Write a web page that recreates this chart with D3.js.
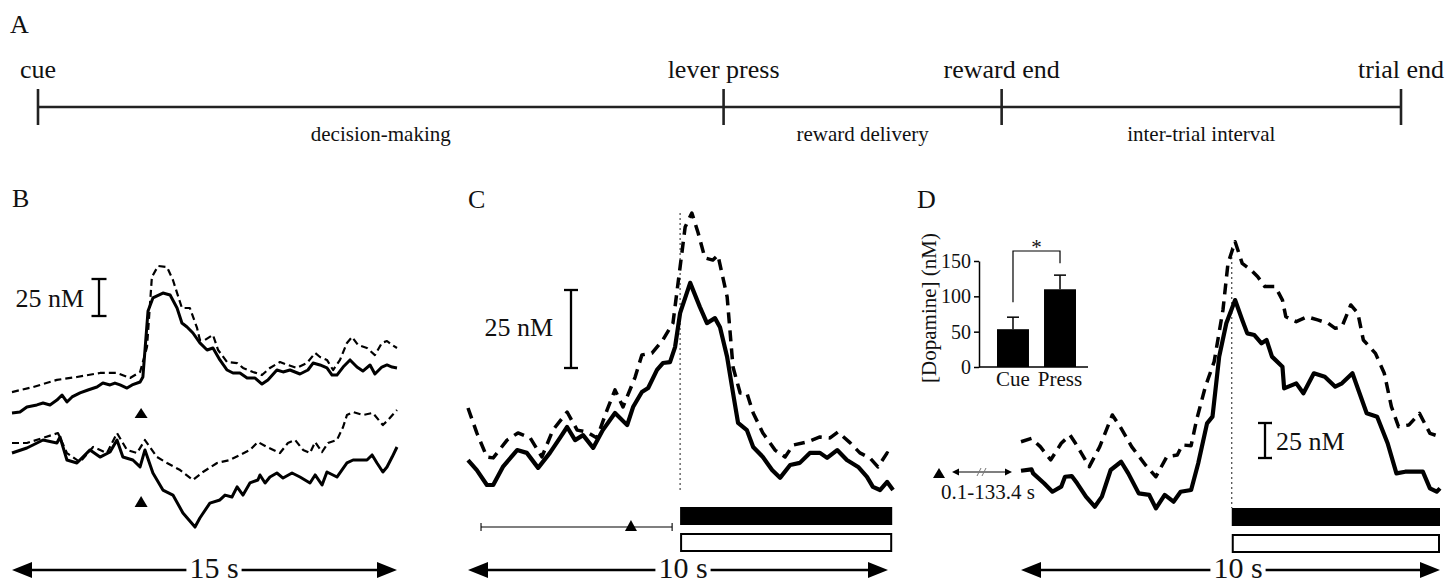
<!DOCTYPE html>
<html>
<head>
<meta charset="utf-8">
<script src="https://cdn.jsdelivr.net/npm/d3@7"></script>
<style>
  html, body { margin: 0; padding: 0; background: #fff; }
  svg { display: block; }
</style>
</head>
<body>
<svg id="fig" width="1450" height="587"></svg>
<script>
// ---------- Panel A: trial timeline ----------
const timelineEvents = ["cue", "lever press", "reward end", "trial end"];
const timelineEventPos = [0, 0.503, 0.707, 1];          // fraction of the trial
const timelinePhases = ["decision-making", "reward delivery", "inter-trial interval"];

// ---------- Panel B: cue-evoked traces, [time s, dopamine nM] ----------
const bUpperSolid = [[0,79.1],[0.31,79.7],[0.58,83.1],[0.97,84.5],[1.21,85.8],[1.48,84.5],[1.75,87.8],[1.95,91.2],[2.14,86.5],[2.34,89.9],[2.65,92.6],[2.96,94.6],[3.31,96.6],[3.54,99.3],[3.82,98.0],[4.01,99.3],[4.21,98.0],[4.48,95.9],[4.68,98.0],[4.99,100.0],[5.10,103.4],[5.30,148.0],[5.49,156.8],[5.88,160.1],[6.16,158.8],[6.43,150.0],[6.62,139.9],[6.82,137.2],[7.05,133.1],[7.32,126.4],[7.60,121.6],[7.83,123.0],[8.10,114.9],[8.38,108.1],[8.61,106.1],[8.88,106.1],[9.16,102.7],[9.47,102.7],[9.74,98.6],[9.97,101.4],[10.32,108.1],[10.56,106.8],[10.83,108.1],[11.22,105.4],[11.53,108.1],[11.73,112.8],[12.00,111.5],[12.27,109.5],[12.47,104.7],[12.66,104.7],[12.90,110.1],[13.17,114.9],[13.44,110.1],[13.67,107.4],[13.95,111.5],[14.14,105.4],[14.41,110.1],[14.61,111.5],[14.81,110.1],[15.0,109.5]];
const bUpperDashed = [[0,93.2],[0.82,96.6],[1.75,101.4],[2.53,103.4],[3.43,106.1],[4.09,106.1],[4.60,102.7],[4.99,106.8],[5.26,123.6],[5.45,170.9],[5.69,178.4],[6.04,177.7],[6.27,168.9],[6.62,150.0],[6.93,150.0],[7.21,136.5],[7.32,128.4],[7.52,128.4],[7.83,131.8],[8.03,121.6],[8.38,113.5],[8.77,112.8],[9.00,109.5],[9.39,106.8],[9.74,104.7],[10.05,109.5],[10.44,113.5],[10.75,111.5],[11.10,109.5],[11.49,112.8],[11.81,119.6],[12.00,116.9],[12.27,114.9],[12.51,108.1],[12.78,114.9],[13.05,126.4],[13.25,130.4],[13.48,125.0],[13.83,123.0],[14.14,118.2],[14.41,126.4],[14.61,127.7],[14.81,125.0],[15.0,123.0]];
const bLowerSolid = [[0,52.0],[0.58,55.4],[1.21,60.8],[1.75,58.8],[1.87,62.8],[2.14,47.3],[2.53,45.3],[3.04,54.1],[3.43,49.3],[3.82,52.7],[4.09,60.8],[4.32,49.3],[4.71,47.3],[4.99,42.6],[5.18,54.1],[5.49,38.5],[5.88,27.0],[6.27,23.6],[6.66,11.5],[7.13,2.0],[7.32,8.1],[7.71,18.2],[8.10,20.3],[8.30,23.6],[8.57,22.3],[8.77,29.1],[9.00,23.6],[9.27,31.8],[9.58,33.8],[9.66,37.2],[9.86,31.8],[10.05,35.8],[10.32,38.5],[10.56,35.1],[10.91,38.5],[11.22,35.8],[11.61,31.8],[11.81,37.2],[12.08,30.4],[12.27,39.2],[12.66,35.8],[13.05,45.3],[13.29,47.3],[13.56,47.3],[13.83,47.3],[14.03,50.7],[14.22,45.3],[14.45,39.2],[14.61,42.6],[14.81,49.3],[15.0,56.1]];
const bLowerDashed = [[0,58.8],[0.58,58.8],[1.21,62.2],[1.79,65.5],[2.14,52.0],[2.65,45.9],[3.16,56.1],[3.70,52.0],[4.09,65.5],[4.48,54.1],[4.87,52.0],[5.18,60.8],[5.65,49.3],[6.04,45.3],[6.55,40.5],[7.05,33.8],[7.44,39.2],[7.99,45.3],[8.49,47.3],[8.88,50.7],[9.27,54.1],[9.58,59.5],[9.93,56.1],[10.44,52.0],[10.75,58.8],[11.03,60.8],[11.34,54.1],[11.61,52.0],[11.81,59.5],[12.08,52.7],[12.31,58.8],[12.66,60.8],[12.90,69.6],[13.05,77.7],[13.29,79.7],[13.68,77.7],[14.06,79.1],[14.45,70.9],[14.65,74.3],[15.0,81.1]];
const bCueTime = 5.03;

// ---------- Panel C: lever-press aligned traces ----------
const cSolid = [[0,12.8],[0.21,9.6],[0.45,4.8],[0.60,4.8],[0.83,10.6],[1.17,16.0],[1.40,15.1],[1.67,10.3],[1.95,15.1],[2.19,19.9],[2.36,23.4],[2.55,19.2],[2.74,20.8],[2.98,16.7],[3.21,22.4],[3.50,27.9],[3.79,24.0],[3.93,29.8],[4.14,34.6],[4.29,35.9],[4.50,41.7],[4.64,43.9],[4.81,44.2],[4.93,49.0],[5.05,59.9],[5.29,69.6],[5.52,61.9],[5.69,56.7],[5.88,58.3],[6.0,55.4],[6.17,45.8],[6.31,34.3],[6.43,24.7],[6.64,22.4],[6.79,17.0],[7.02,13.8],[7.24,9.6],[7.43,7.1],[7.67,11.2],[7.90,11.9],[8.14,15.1],[8.38,15.1],[8.55,13.5],[8.79,16.0],[9.02,12.8],[9.29,10.6],[9.50,7.4],[9.64,4.2],[9.81,3.2],[9.98,5.8],[10.12,3.2]];
const cDashed = [[0,29.5],[0.21,21.5],[0.45,13.8],[0.60,13.5],[0.93,19.2],[1.19,21.5],[1.48,19.9],[1.76,13.8],[2.02,22.4],[2.36,28.2],[2.60,22.4],[2.83,21.8],[3.07,19.9],[3.31,28.8],[3.50,35.3],[3.69,29.8],[3.98,39.4],[4.14,46.5],[4.38,47.1],[4.64,51.3],[4.88,56.7],[5.05,74.7],[5.17,87.5],[5.33,92.0],[5.48,85.6],[5.64,77.6],[5.83,76.9],[5.95,78.5],[6.17,65.1],[6.31,42.6],[6.48,34.3],[6.64,34.3],[6.79,27.9],[7.02,21.5],[7.31,16.0],[7.55,13.8],[7.74,17.6],[8.07,18.6],[8.38,20.2],[8.62,19.9],[8.81,21.8],[9.10,18.3],[9.33,15.1],[9.57,13.5],[9.76,10.6],[9.98,15.1],[10.12,13.5]];
const cPressTime = 5.05;
const cRewardEndTime = 10.1;
const cCueWindow = [0.31, 4.86];
const cCueTime = 3.88;

// ---------- Panel D: press aligned traces after long delays ----------
const dSolid = [[0,35.2],[0.25,36.2],[0.29,33.3],[0.55,26.2],[0.75,20.2],[0.96,23.8],[1.05,30.9],[1.21,31.4],[1.34,26.2],[1.55,16.7],[1.76,9.5],[1.93,16.7],[2.14,35.7],[2.39,41.6],[2.56,33.3],[2.81,19.0],[3.06,17.9],[3.22,8.3],[3.43,17.9],[3.64,13.1],[3.81,20.2],[4.06,21.4],[4.23,40.5],[4.44,69.0],[4.57,73.8],[4.73,116.7],[4.90,140.5],[5.11,157.1],[5.28,142.9],[5.40,133.3],[5.57,132.1],[5.74,126.2],[5.86,128.6],[5.99,116.7],[6.24,109.5],[6.28,94.0],[6.57,97.6],[6.74,90.5],[6.99,104.8],[7.25,102.4],[7.50,95.2],[7.66,97.6],[7.91,104.8],[8.08,90.5],[8.25,76.2],[8.50,73.8],[8.75,54.8],[8.96,33.3],[9.17,34.5],[9.59,34.5],[9.76,22.6],[9.92,20.2],[10.0,22.6]];
const dDashed = [[0,55.9],[0.25,58.3],[0.46,52.4],[0.71,42.9],[0.96,54.8],[1.17,60.7],[1.30,54.8],[1.63,38.1],[1.88,52.4],[2.18,75.0],[2.39,65.5],[2.64,52.4],[2.97,39.3],[3.22,30.9],[3.48,45.2],[3.73,46.4],[3.85,53.6],[4.06,53.1],[4.19,71.4],[4.40,95.2],[4.61,113.1],[4.82,150.0],[4.94,183.3],[5.11,198.8],[5.28,183.3],[5.49,178.6],[5.65,173.8],[5.82,166.7],[6.07,166.7],[6.24,157.1],[6.32,145.2],[6.57,141.7],[6.83,145.2],[7.08,142.9],[7.33,140.5],[7.50,136.9],[7.66,138.1],[7.87,153.6],[8.04,147.6],[8.17,128.6],[8.46,119.0],[8.67,104.8],[8.84,81.0],[9.01,66.7],[9.26,67.9],[9.51,76.2],[9.76,61.9],[10.0,59.5]];
const dPressTime = 5.03;
const dDelayLabel = "0.1-133.4 s";

// ---------- Panel D inset: mean peak dopamine ----------
const insetCategories = ["Cue", "Press"];
const insetMeans = [53.5, 110];
const insetSem = [17, 20];
const insetTicks = [0, 50, 100, 150];

const scaleBarNM = 25;

// ================= drawing =================
const FONT = "'Liberation Serif','Times New Roman',Times,serif";
const svg = d3.select("#fig");
svg.append("rect").attr("width", 1450).attr("height", 587).attr("fill", "#fff");

function label(x, y, txt, size, anchor) {
  return svg.append("text").attr("x", x).attr("y", y).text(txt)
    .attr("font-family", FONT).attr("font-size", size)
    .attr("text-anchor", anchor || "start").attr("fill", "#111");
}

// ---- Panel A ----
label(10, 33, "A", 26);
const xA = d3.scaleLinear().domain([0, 1]).range([38, 1401]);
const gA = svg.append("g");
gA.append("line").attr("x1", xA(0)).attr("x2", xA(1)).attr("y1", 107).attr("y2", 107)
  .attr("stroke", "#222").attr("stroke-width", 2.6);
timelineEventPos.forEach((p, i) => {
  gA.append("line").attr("x1", xA(p)).attr("x2", xA(p)).attr("y1", 89).attr("y2", 125)
    .attr("stroke", "#222").attr("stroke-width", 2.6);
  label(xA(p), 78, timelineEvents[i], 26, "middle");
});
timelinePhases.forEach((ph, i) => {
  const mid = (xA(timelineEventPos[i]) + xA(timelineEventPos[i + 1])) / 2;
  label(mid, 141, ph, 21, "middle");
});

// ---- helpers ----
function trace(xs, ys, data, width, dash) {
  const line = d3.line().x(d => xs(d[0])).y(d => ys(d[1]));
  svg.append("path").datum(data).attr("d", line)
    .attr("fill", "none").attr("stroke", "#000").attr("stroke-width", width)
    .attr("stroke-linejoin", "round").attr("stroke-linecap", "butt")
    .attr("stroke-dasharray", dash || null);
}
function triangle(cx, base, w, h) {
  svg.append("path").attr("d", `M${cx - w / 2},${base}L${cx + w / 2},${base}L${cx},${base - h}Z`)
    .attr("fill", "#000");
}
function scaleBar(x, yBottom, ys, capW, sw) {
  const len = ys(0) - ys(scaleBarNM);
  const g = svg.append("g").attr("stroke", "#000").attr("stroke-width", sw);
  g.append("line").attr("x1", x).attr("x2", x).attr("y1", yBottom).attr("y2", yBottom - len);
  g.append("line").attr("x1", x - capW / 2).attr("x2", x + capW / 2).attr("y1", yBottom).attr("y2", yBottom);
  g.append("line").attr("x1", x - capW / 2).attr("x2", x + capW / 2).attr("y1", yBottom - len).attr("y2", yBottom - len);
  return len;
}
function timeArrow(x0, x1, y, txt, cx) {
  const t = label(cx, y + 8, txt, 30, "middle");
  const w = t.node().getComputedTextLength();
  const ah = 20, hw = 8;
  const g = svg.append("g");
  g.append("line").attr("x1", x0 + ah - 2).attr("x2", cx - w / 2 - 3).attr("y1", y).attr("y2", y)
    .attr("stroke", "#000").attr("stroke-width", 2.4);
  g.append("line").attr("x1", cx + w / 2 + 3).attr("x2", x1 - ah + 2).attr("y1", y).attr("y2", y)
    .attr("stroke", "#000").attr("stroke-width", 2.4);
  g.append("path").attr("d", `M${x0},${y}L${x0 + ah},${y - hw}L${x0 + ah},${y + hw}Z`).attr("fill", "#000");
  g.append("path").attr("d", `M${x1},${y}L${x1 - ah},${y - hw}L${x1 - ah},${y + hw}Z`).attr("fill", "#000");
}
function dottedLine(x, y0, y1) {
  svg.append("line").attr("x1", x).attr("x2", x).attr("y1", y0).attr("y2", y1)
    .attr("stroke", "#333").attr("stroke-width", 1.1).attr("stroke-dasharray", "2,3");
}
function rewardBars(x0, x1, yBlack, yWhite) {
  svg.append("rect").attr("x", x0).attr("y", yBlack).attr("width", x1 - x0).attr("height", 18).attr("fill", "#000");
  svg.append("rect").attr("x", x0 + 1).attr("y", yWhite + 1).attr("width", x1 - x0 - 2).attr("height", 17)
    .attr("fill", "#fff").attr("stroke", "#000").attr("stroke-width", 2);
}

// ---- Panel B ----
label(12, 207, "B", 26);
const xB = d3.scaleLinear().domain([0, 15]).range([12, 397]);
const yB = d3.scaleLinear().domain([0, 100]).range([530, 382]);
trace(xB, yB, bUpperDashed, 2.2, "7,4");
trace(xB, yB, bUpperSolid, 3);
trace(xB, yB, bLowerDashed, 2.2, "7,4");
trace(xB, yB, bLowerSolid, 3);
triangle(xB(bCueTime), 418, 13, 10);
triangle(xB(bCueTime), 507, 13, 11);
scaleBar(99, 316, yB, 15, 2.3);
label(84, 307, "25 nM", 26, "end");
timeArrow(xB(0), xB(15), 570, "15 s", 214);

// ---- Panel C ----
label(468, 208, "C", 26);
const xC = d3.scaleLinear().domain([0, 10]).range([468, 888]);
const yC = d3.scaleLinear().domain([0, 100]).range([500, 188]);
dottedLine(xC(cPressTime), 213, 492);
trace(xC, yC, cDashed, 3.5, "11,7");
trace(xC, yC, cSolid, 4.2);
scaleBar(571, 368, yC, 14, 2.3);
label(553, 336, "25 nM", 26, "end");
rewardBars(xC(cPressTime), xC(cRewardEndTime), 507, 533);
// cue window with its marker
svg.append("line").attr("x1", xC(cCueWindow[0])).attr("x2", xC(cCueWindow[1])).attr("y1", 527).attr("y2", 527)
  .attr("stroke", "#000").attr("stroke-width", 1.1);
cCueWindow.forEach(t => svg.append("line").attr("x1", xC(t)).attr("x2", xC(t)).attr("y1", 523).attr("y2", 531)
  .attr("stroke", "#000").attr("stroke-width", 1.1));
triangle(xC(cCueTime), 531, 12, 11);
timeArrow(xC(0), xC(10), 570, "10 s", 683);

// ---- Panel D ----
label(917, 208, "D", 26);
const xD = d3.scaleLinear().domain([0, 10]).range([1021, 1440]);
const yD = d3.scaleLinear().domain([0, 100]).range([520, 380]);
dottedLine(xD(dPressTime), 247, 508);
trace(xD, yD, dDashed, 3.5, "11,7");
trace(xD, yD, dSolid, 4.2);
scaleBar(1265, 458, yD, 14, 2.3);
label(1276, 450, "25 nM", 26, "start");
rewardBars(xD(dPressTime), xD(10), 508, 534);
timeArrow(xD(0), xD(10), 570, "10 s", 1238);

// delay marker: cue triangle, broken double arrow, label
triangle(939, 478, 12, 10);
{
  const y = 472, x0 = 952, x1 = 1012;
  svg.append("line").attr("x1", x0 + 2).attr("x2", x1 - 2).attr("y1", y).attr("y2", y)
    .attr("stroke", "#000").attr("stroke-width", 1.2);
  svg.append("path").attr("d", `M${x0},${y}L${x0 + 7},${y - 3.5}L${x0 + 7},${y + 3.5}Z`).attr("fill", "#000");
  svg.append("path").attr("d", `M${x1},${y}L${x1 - 7},${y - 3.5}L${x1 - 7},${y + 3.5}Z`).attr("fill", "#000");
  [977, 982].forEach(x => svg.append("line").attr("x1", x).attr("x2", x + 4).attr("y1", y + 4).attr("y2", y - 4)
    .attr("stroke", "#777").attr("stroke-width", 1));
}
label(988, 499, dDelayLabel, 21, "middle");

// ---- Inset bar chart ----
const xIn = d3.scaleBand().domain(insetCategories).range([979, 1094]).paddingInner(0.32).paddingOuter(0.383);
const yIn = d3.scaleLinear().domain([0, 150]).range([367, 261]);
const gIn = svg.append("g");
const yAxis = d3.axisLeft(yIn).tickValues(insetTicks).tickSize(5).tickSizeOuter(0).tickPadding(3);
const ax = gIn.append("g").attr("transform", "translate(979,0)").call(yAxis);
ax.select(".domain").attr("stroke", "#000").attr("stroke-width", 1.5);
ax.selectAll(".tick line").attr("stroke", "#000").attr("stroke-width", 1.5);
ax.selectAll(".tick text").attr("font-family", FONT).attr("font-size", 20).attr("fill", "#111");
gIn.append("line").attr("x1", 979).attr("x2", 1088).attr("y1", yIn(0)).attr("y2", yIn(0))
  .attr("stroke", "#000").attr("stroke-width", 1.5);
insetCategories.forEach((c, i) => {
  const cx = xIn(c) + xIn.bandwidth() / 2;
  gIn.append("line").attr("x1", cx).attr("x2", cx).attr("y1", yIn(insetMeans[i])).attr("y2", yIn(insetMeans[i] + insetSem[i]))
    .attr("stroke", "#000").attr("stroke-width", 1.5);
  gIn.append("line").attr("x1", cx - 6).attr("x2", cx + 6).attr("y1", yIn(insetMeans[i] + insetSem[i])).attr("y2", yIn(insetMeans[i] + insetSem[i]))
    .attr("stroke", "#000").attr("stroke-width", 1.5);
  gIn.append("rect").attr("x", xIn(c)).attr("y", yIn(insetMeans[i])).attr("width", xIn.bandwidth())
    .attr("height", yIn(0) - yIn(insetMeans[i])).attr("fill", "#000");
  label(cx, 386, c, 21, "middle");
});
{
  const cx0 = xIn(insetCategories[0]) + xIn.bandwidth() / 2;
  const cx1 = xIn(insetCategories[1]) + xIn.bandwidth() / 2;
  const top = 251;
  gIn.append("path")
    .attr("d", `M${cx0},${yIn(insetMeans[0] + insetSem[0]) - 15}V${top}H${cx1}V${yIn(insetMeans[1] + insetSem[1]) - 12}`)
    .attr("fill", "none").attr("stroke", "#000").attr("stroke-width", 1.2);
  label((cx0 + cx1) / 2, 254, "*", 21, "middle");
}
svg.append("text").attr("transform", "translate(936,308) rotate(-90)")
  .attr("text-anchor", "middle").attr("font-family", FONT).attr("font-size", 21).attr("fill", "#111")
  .text("[Dopamine] (nM)");
</script>
</body>
</html>
